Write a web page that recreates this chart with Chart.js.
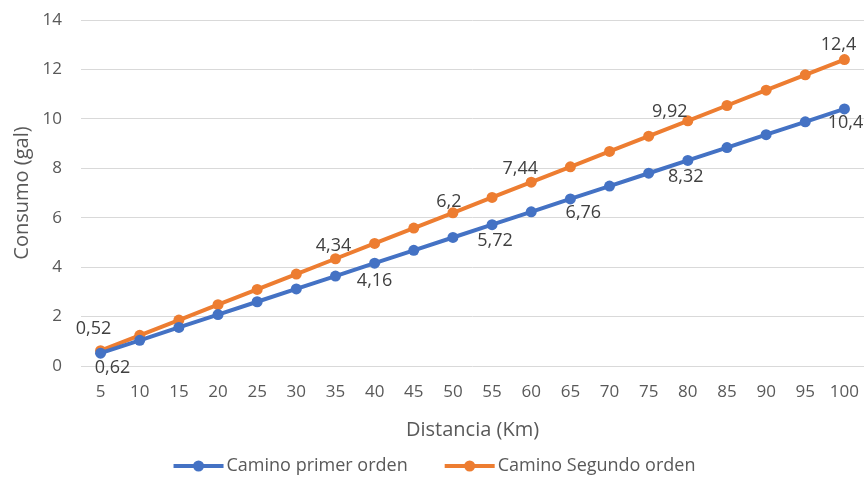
<!DOCTYPE html>
<html>
<head>
<meta charset="utf-8">
<script src="https://cdn.jsdelivr.net/npm/chart.js@4.4.1/dist/chart.umd.min.js"></script>
<style>
  html, body { margin: 0; padding: 0; background: #ffffff; }
  #wrap { width: 865px; height: 478px; }
</style>
</head>
<body>
<div id="wrap"><canvas id="chart" width="865" height="478"></canvas></div>
<script>
// Distance categories (km)
const distancias = ['5','10','15','20','25','30','35','40','45','50','55','60','65','70','75','80','85','90','95','100'];

// Fuel consumption (gal) per road type
const caminoPrimerOrden  = [0.52, 1.04, 1.56, 2.08, 2.6, 3.12, 3.64, 4.16, 4.68, 5.2, 5.72, 6.24, 6.76, 7.28, 7.8, 8.32, 8.84, 9.36, 9.88, 10.4];
const caminoSegundoOrden = [0.62, 1.24, 1.86, 2.48, 3.1, 3.72, 4.34, 4.96, 5.58, 6.2, 6.82, 7.44, 8.06, 8.68, 9.3, 9.92, 10.54, 11.16, 11.78, 12.4];

// Y axis ticks
const ticksConsumo = [0, 2, 4, 6, 8, 10, 12, 14];

// Points that carry a value label
const etiquetasPrimer  = [0, 7, 10, 12, 15, 19];
const etiquetasSegundo = [0, 6, 9, 11, 15, 19];

const FONT = "'Open Sans', 'DejaVu Sans', sans-serif";
const AZUL = '#4472C4';
const NARANJA = '#ED7D31';

// Label offsets from the point centre (dx, dy in px)
const offsetsLabels = [
  { 0: [-7, -24], 7: [0, 18], 10: [3, 16], 12: [13, 14], 15: [-2, 16], 19: [1, 14] },
  { 0: [12, 17], 6: [-2, -13], 9: [-4, -11], 11: [-11, -13], 15: [-18, -9], 19: [-6, -15] }
];

const valueLabels = {
  id: 'valueLabels',
  afterDatasetsDraw(chart) {
    const ctx = chart.ctx;
    ctx.save();
    ctx.font = '18px ' + FONT;
    ctx.fillStyle = '#404040';
    ctx.textAlign = 'center';
    ctx.textBaseline = 'middle';
    [etiquetasPrimer, etiquetasSegundo].forEach((idxs, di) => {
      const meta = chart.getDatasetMeta(di);
      const vals = chart.data.datasets[di].data;
      idxs.forEach(i => {
        const pt = meta.data[i];
        const off = offsetsLabels[di][i] || [0, 0];
        const txt = String(vals[i]).replace('.', ',');
        ctx.fillText(txt, pt.x + off[0], pt.y + off[1]);
      });
    });
    ctx.restore();
  }
};

// Legend with line + marker swatches, centred under the axis title
const lineLegend = {
  id: 'lineLegend',
  afterDraw(chart) {
    const ctx = chart.ctx;
    ctx.save();
    ctx.font = '18px ' + FONT;
    ctx.textBaseline = 'middle';
    const y = 466;
    const swatch = 50, gap = 3, between = 37;
    const items = chart.data.datasets.map(ds => ({
      label: ds.label, color: ds.borderColor, w: swatch + gap + ctx.measureText(ds.label).width
    }));
    const total = items.reduce((s, it) => s + it.w, 0) + between * (items.length - 1);
    let x = (chart.width - total) / 2 + 2;
    items.forEach(it => {
      ctx.strokeStyle = it.color;
      ctx.lineWidth = 4;
      ctx.beginPath();
      ctx.moveTo(x, y);
      ctx.lineTo(x + swatch, y);
      ctx.stroke();
      ctx.fillStyle = it.color;
      ctx.beginPath();
      ctx.arc(x + swatch / 2, y, 5.5, 0, Math.PI * 2);
      ctx.fill();
      ctx.fillStyle = '#595959';
      ctx.textAlign = 'left';
      ctx.fillText(it.label, x + swatch + gap, y);
      x += it.w + between;
    });
    ctx.restore();
  }
};

new Chart(document.getElementById('chart'), {
  type: 'line',
  data: {
    labels: distancias,
    datasets: [
      {
        label: 'Camino primer orden',
        data: caminoPrimerOrden,
        borderColor: AZUL,
        backgroundColor: AZUL,
        borderWidth: 4,
        pointRadius: 5.5,
        pointHoverRadius: 5.5,
        pointBorderWidth: 0,
        tension: 0
      },
      {
        label: 'Camino Segundo orden',
        data: caminoSegundoOrden,
        borderColor: NARANJA,
        backgroundColor: NARANJA,
        borderWidth: 4,
        pointRadius: 5.5,
        pointHoverRadius: 5.5,
        pointBorderWidth: 0,
        tension: 0
      }
    ]
  },
  options: {
    responsive: false,
    animation: false,
    devicePixelRatio: 1,
    layout: { padding: { top: 20, right: 1, left: 0, bottom: 34 } },
    plugins: {
      legend: { display: false },
      tooltip: { enabled: false }
    },
    scales: {
      x: {
        offset: true,
        grid: { display: true, color: 'rgba(0,0,0,0)', tickColor: 'rgba(0,0,0,0)', drawTicks: true, tickLength: 13, offset: true },
        border: { display: false },
        ticks: {
          color: '#595959',
          font: { family: FONT, size: 17 },
          padding: 3,
          maxRotation: 0,
          autoSkip: false
        },
        title: {
          display: true,
          text: 'Distancia (Km)',
          color: '#595959',
          font: { family: FONT, size: 20 },
          padding: { top: 0, bottom: 2 }
        },
        afterFit(scale) {
          scale.height = 78;
          scale.paddingLeft = 0;
          scale.paddingRight = 0;
        },
        afterUpdate(scale) {
          scale.paddingLeft = 0;
          scale.paddingRight = 0;
        }
      },
      y: {
        min: 0,
        max: 14,
        afterBuildTicks(scale) { scale.ticks = ticksConsumo.map(v => ({ value: v })); },
        grid: { color: '#d9d9d9', lineWidth: 1, drawTicks: false },
        border: { display: false },
        ticks: {
          color: '#595959',
          font: { family: FONT, size: 17 },
          padding: 19
        },
        title: {
          display: true,
          text: 'Consumo (gal)',
          color: '#595959',
          font: { family: FONT, size: 20 },
          padding: { top: 10, bottom: 0 }
        },
        afterFit(scale) {
          scale.width = 81;
          scale.paddingTop = 0;
          scale.paddingBottom = 0;
        }
      }
    }
  },
  plugins: [valueLabels, lineLegend, {
    // keep the category axis flush with the right edge of the plot
    id: 'plotRight',
    afterLayout(chart) {
      const area = chart.chartArea;
      const target = chart.width - 1;
      if (area.right < target) {
        area.right = target;
        area.width = area.right - area.left;
        const x = chart.scales.x;
        x.right = target;
        x.width = x.right - x.left;
        x.configure();
        const y = chart.scales.y;
        y.configure();
      }
    }
  }]
});
</script>
</body>
</html>
